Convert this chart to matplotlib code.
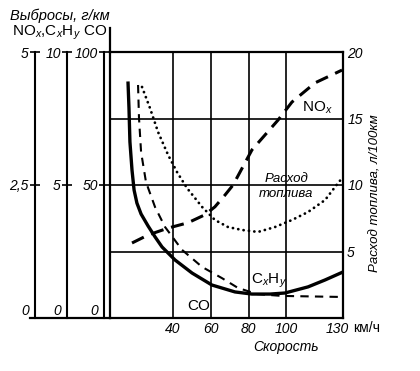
import matplotlib
matplotlib.use("Agg")
import matplotlib.pyplot as plt
from matplotlib.transforms import ScaledTranslation

plt.rcParams["font.family"] = ["Liberation Sans", "DejaVu Sans"]
plt.rcParams["mathtext.fontset"] = "custom"
plt.rcParams["mathtext.rm"] = "Liberation Sans"
plt.rcParams["mathtext.it"] = "Liberation Sans:italic"

# speed, km/h
co_speed = [16.2, 16.7, 17.2, 18.3, 19.4, 20.9, 23.1, 26.8, 30.5, 34.2, 41.1, 50.1, 60.6,
            72.8, 81.8, 91.4, 99.3, 111.5, 120.5, 130.0]
co_vals = [88.3, 78.9, 66.2, 55.6, 48.1, 43.2, 39.1, 34.6, 30.5, 26.7, 21.8, 16.9, 12.4,
           9.8, 9.0, 9.0, 9.4, 11.7, 14.3, 17.3]

hc_speed = [21.5, 22.0, 23.1, 25.7, 30.5, 35.8, 44.8, 55.4, 65.9, 74.4, 84.5, 97.7, 130.0]
hc_vals = [8.76, 7.52, 6.24, 5.11, 4.17, 3.42, 2.56, 1.92, 1.50, 1.13, 0.90, 0.83, 0.79]

nox_speed = [18.3, 26.8, 37.4, 47.9, 56.9, 62.2, 67.5, 71.8, 81.8, 95.6, 103.0, 115.2, 129.5]
nox_vals = [1.41, 1.56, 1.69, 1.79, 1.94, 2.09, 2.31, 2.50, 3.16, 3.72, 4.06, 4.42, 4.66]

fuel_speed = [23.6, 27.8, 32.1, 37.4, 42.1, 47.4, 55.4, 62.2, 69.1, 76.5, 85.0, 94.0,
              103.0, 111.5, 120.5, 127.4, 130.0]
fuel_vals = [17.37, 15.79, 13.98, 12.26, 10.98, 9.77, 8.35, 7.37, 6.84, 6.62, 6.47, 6.84,
             7.37, 7.97, 8.87, 10.15, 10.6]

speed_ticks = [40, 60, 80, 100, 130]
fuel_ticks = [5, 10, 15, 20]

# left-hand emission scales: (spine offset, max, labels)
left_scales = [
    (-0.322, 5, ["0", "2,5", "5"]),
    (-0.185, 10, ["0", "5", "10"]),
    (-0.026, 100, ["0", "50", "100"]),
]

W, H = 420, 371
fig = plt.figure(figsize=(W / 100, H / 100), dpi=100)
rect = [110 / W, 53 / H, 233 / W, 266 / H]
xlim = (6.65, 130)

ax = fig.add_axes(rect)
ax.set_xlim(*xlim)
ax.set_ylim(0, 20)
for s in ax.spines.values():
    s.set_linewidth(1.6)
ax.yaxis.tick_right()
ax.set_yticks(fuel_ticks)
ax.set_yticklabels([str(t) for t in fuel_ticks], fontstyle="italic", fontsize=10)
ax.set_xticks(speed_ticks)
ax.set_xticklabels([str(t) for t in speed_ticks], fontstyle="italic", fontsize=10)
ax.tick_params(length=0, pad=3)
ax.grid(True, color="black", linewidth=1.2)
ax.set_axisbelow(True)
# "130" sits a little left of its grid line
last = ax.get_xticklabels()[-1]
last.set_transform(last.get_transform() + ScaledTranslation(-0.06, 0, fig.dpi_scale_trans))

# extensions of the frame
ax.plot([0, 0], [1, 1.09], transform=ax.transAxes, clip_on=False, color="black", lw=1.6)
ax.plot([-0.343, 0], [0, 0], transform=ax.transAxes, clip_on=False, color="black", lw=1.6)

ax.plot(fuel_speed, fuel_vals, color="black", lw=2.0, linestyle=(0, (0.05, 1.9)),
        dash_capstyle="round")

scale_axes = []
for pos, top, labels in left_scales:
    a = fig.add_axes(rect)
    a.patch.set_visible(False)
    for name, s in a.spines.items():
        s.set_visible(name == "left")
    a.spines["left"].set_position(("axes", pos))
    a.spines["left"].set_linewidth(1.5)
    a.set_xlim(*xlim)
    a.set_ylim(0, top)
    a.set_xticks([])
    a.set_yticks([0, top / 2, top])
    a.set_yticklabels(labels, fontstyle="italic", fontsize=10)
    a.tick_params(axis="y", direction="inout", length=7, width=1.2, pad=1)
    a.get_yticklabels()[0].set_verticalalignment("bottom")
    scale_axes.append(a)

ax_nox, ax_hc, ax_co = scale_axes
ax_co.plot(co_speed, co_vals, color="black", lw=2.4)
ax_hc.plot(hc_speed, hc_vals, color="black", lw=1.5, dashes=(4.0, 3.0))
ax_nox.plot(nox_speed, nox_vals, color="black", lw=2.2, dashes=(4.3, 2.6))


def px(x, y):
    return x / W, 1 - y / H


fig.text(*px(10, 16), "Выбросы, г/км", fontstyle="italic", fontsize=10.5,
         ha="left", va="center")
fig.text(*px(12, 33), "NO$_x$,C$_x$H$_y$ CO", fontsize=11, ha="left", va="center")
fig.text(*px(376, 193), "Расход топлива, л/100км", fontstyle="italic", fontsize=9.5,
         rotation=90, ha="center", va="center")
fig.text(*px(353, 328), "км/ч", fontsize=10, ha="left", va="center")
fig.text(*px(286, 347), "Скорость", fontstyle="italic", fontsize=10,
         ha="center", va="center")

fig.text(*px(317, 108), "NO$_x$", fontsize=11, ha="center", va="center")
fig.text(*px(287, 179), "Расход", fontstyle="italic", fontsize=9.5, ha="center", va="center")
fig.text(*px(286, 194), "топлива", fontstyle="italic", fontsize=9.5, ha="center", va="center")
fig.text(*px(269, 281), "C$_x$H$_y$", fontsize=11, ha="center", va="center")
fig.text(*px(199, 306), "CO", fontsize=11, ha="center", va="center")

fig.savefig("out.png", dpi=100, facecolor="white")
